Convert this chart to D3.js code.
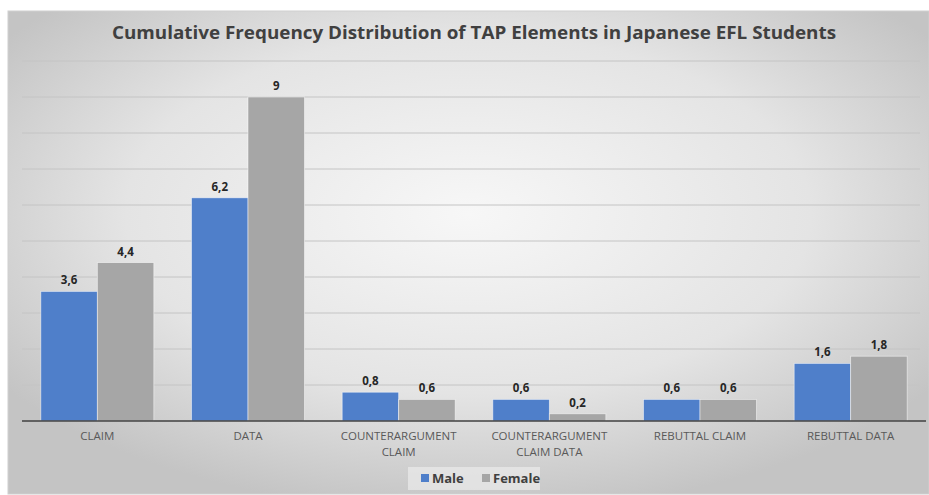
<!DOCTYPE html>
<html>
<head>
<meta charset="utf-8">
<script src="https://cdn.jsdelivr.net/npm/d3@7"></script>
<style>
  body { margin: 0; background: #fff; }
  svg { display: block; }
</style>
</head>
<body>
<svg id="chart" width="929" height="495"></svg>
<script>
const categories = [["CLAIM"], ["DATA"], ["COUNTERARGUMENT", "CLAIM"], ["COUNTERARGUMENT", "CLAIM DATA"], ["REBUTTAL CLAIM"], ["REBUTTAL DATA"]];
const maleValues = [3.6, 6.2, 0.8, 0.6, 0.6, 1.6];
const femaleValues = [4.4, 9, 0.6, 0.2, 0.6, 1.8];
const seriesNames = ["Male", "Female"];
const gridTicks = [0, 1, 2, 3, 4, 5, 6, 7, 8, 9, 10];

const svg = d3.select("#chart");
const width = 929, height = 495;
const margin = { left: 22, right: 3, top: 61, bottom: 74 };
const colors = { Male: "#4f7fca", Female: "#a6a6a6" };

// background frame with radial shading
let defs = svg.append("defs");
let grad = defs.append("radialGradient").attr("id", "bg")
    .attr("cx", "50%").attr("cy", "42%").attr("r", "62%");
grad.append("stop").attr("offset", "0%").attr("stop-color", "#f7f7f7");
grad.append("stop").attr("offset", "60%").attr("stop-color", "#e4e4e4");
grad.append("stop").attr("offset", "100%").attr("stop-color", "#c4c4c4");

svg.append("rect")
    .attr("x", 8).attr("y", 11)
    .attr("width", width - 8).attr("height", height - 12)
    .attr("fill", "url(#bg)")
    .attr("stroke", "#cfcfcf");

svg.append("text")
    .attr("x", 474).attr("y", 39)
    .attr("text-anchor", "middle")
    .attr("font-family", "'Open Sans', sans-serif")
    .attr("font-weight", "bold")
    .attr("font-size", 18)
    .attr("fill", "#404040")
    .attr("textLength", 724)
    .attr("lengthAdjust", "spacingAndGlyphs")
    .text("Cumulative Frequency Distribution of TAP Elements in Japanese EFL Students");

let x = d3.scaleBand()
    .domain(d3.range(categories.length))
    .range([margin.left, width - margin.right])
    .paddingInner(0.25).paddingOuter(0.125);
// full category slot, for centring the labels
let slot = d3.scaleBand()
    .domain(d3.range(categories.length))
    .range([margin.left, width - margin.right]);
let inner = d3.scaleBand()
    .domain(seriesNames)
    .range([0, x.bandwidth()]);
let y = d3.scaleLinear()
    .domain([0, 10])
    .range([height - margin.bottom, margin.top]);

// gridlines
svg.append("g").attr("class", "grid")
    .selectAll("line")
    .data(gridTicks.slice(1))
    .enter().append("line")
    .attr("x1", margin.left).attr("x2", width - margin.right - 6)
    .attr("y1", d => y(d)).attr("y2", d => y(d))
    .attr("stroke", "#c4c4c4")
    .attr("stroke-width", 1);

let rows = categories.map((c, i) => ({ i: i, vals: [maleValues[i], femaleValues[i]] }));

let groups = svg.append("g").selectAll("g")
    .data(rows)
    .enter().append("g")
    .attr("transform", d => "translate(" + x(d.i) + ",0)");

groups.selectAll("rect")
    .data(d => d.vals.map((v, k) => ({ name: seriesNames[k], v: v })))
    .enter().append("rect")
    .attr("x", d => inner(d.name))
    .attr("y", d => y(d.v))
    .attr("width", inner.bandwidth())
    .attr("height", d => y(0) - y(d.v))
    .attr("fill", d => colors[d.name])
    .attr("stroke", "rgba(255,255,255,0.6)")
    .attr("stroke-width", 0.8);

groups.selectAll("text")
    .data(d => d.vals.map((v, k) => ({ name: seriesNames[k], v: v })))
    .enter().append("text")
    .attr("x", d => inner(d.name) + inner.bandwidth() / 2)
    .attr("y", d => y(d.v) - 7)
    .attr("text-anchor", "middle")
    .attr("font-family", "'Open Sans', sans-serif")
    .attr("font-weight", "bold")
    .attr("font-size", 11.5)
    .attr("fill", "#262626")
    .text(d => String(d.v).replace(".", ","));

// axis line
svg.append("line")
    .attr("x1", margin.left).attr("x2", width - margin.right)
    .attr("y1", y(0)).attr("y2", y(0))
    .attr("stroke", "#404040")
    .attr("stroke-width", 1.5);

// category labels, one text per line
let cat = svg.append("g").selectAll("g")
    .data(categories)
    .enter().append("g");
cat.selectAll("text")
    .data((d, i) => d.map((line, k) => ({ line: line, k: k, i: i })))
    .enter().append("text")
    .attr("x", d => slot(d.i) + slot.bandwidth() / 2)
    .attr("y", d => 440 + d.k * 16)
    .attr("text-anchor", "middle")
    .attr("font-family", "'Open Sans', sans-serif")
    .attr("font-size", 11.5)
    .attr("fill", "#595959")
    .text(d => d.line);

// legend
svg.append("rect")
    .attr("x", 408).attr("y", 467)
    .attr("width", 132).attr("height", 23)
    .attr("fill", "#ebebeb").attr("opacity", 0.7);
let legend = svg.append("g").attr("transform", "translate(421,483)");
let legendX = [0, 61];
seriesNames.forEach((name, k) => {
    let g = legend.append("g").attr("transform", "translate(" + legendX[k] + ",0)");
    g.append("rect")
        .attr("x", 0).attr("y", -9)
        .attr("width", 8).attr("height", 8)
        .attr("fill", colors[name]);
    g.append("text")
        .attr("x", 11).attr("y", 0)
        .attr("font-family", "'Open Sans', sans-serif")
        .attr("font-weight", "bold")
        .attr("font-size", 13)
        .attr("fill", "#404040")
        .text(name);
});
</script>
</body>
</html>
